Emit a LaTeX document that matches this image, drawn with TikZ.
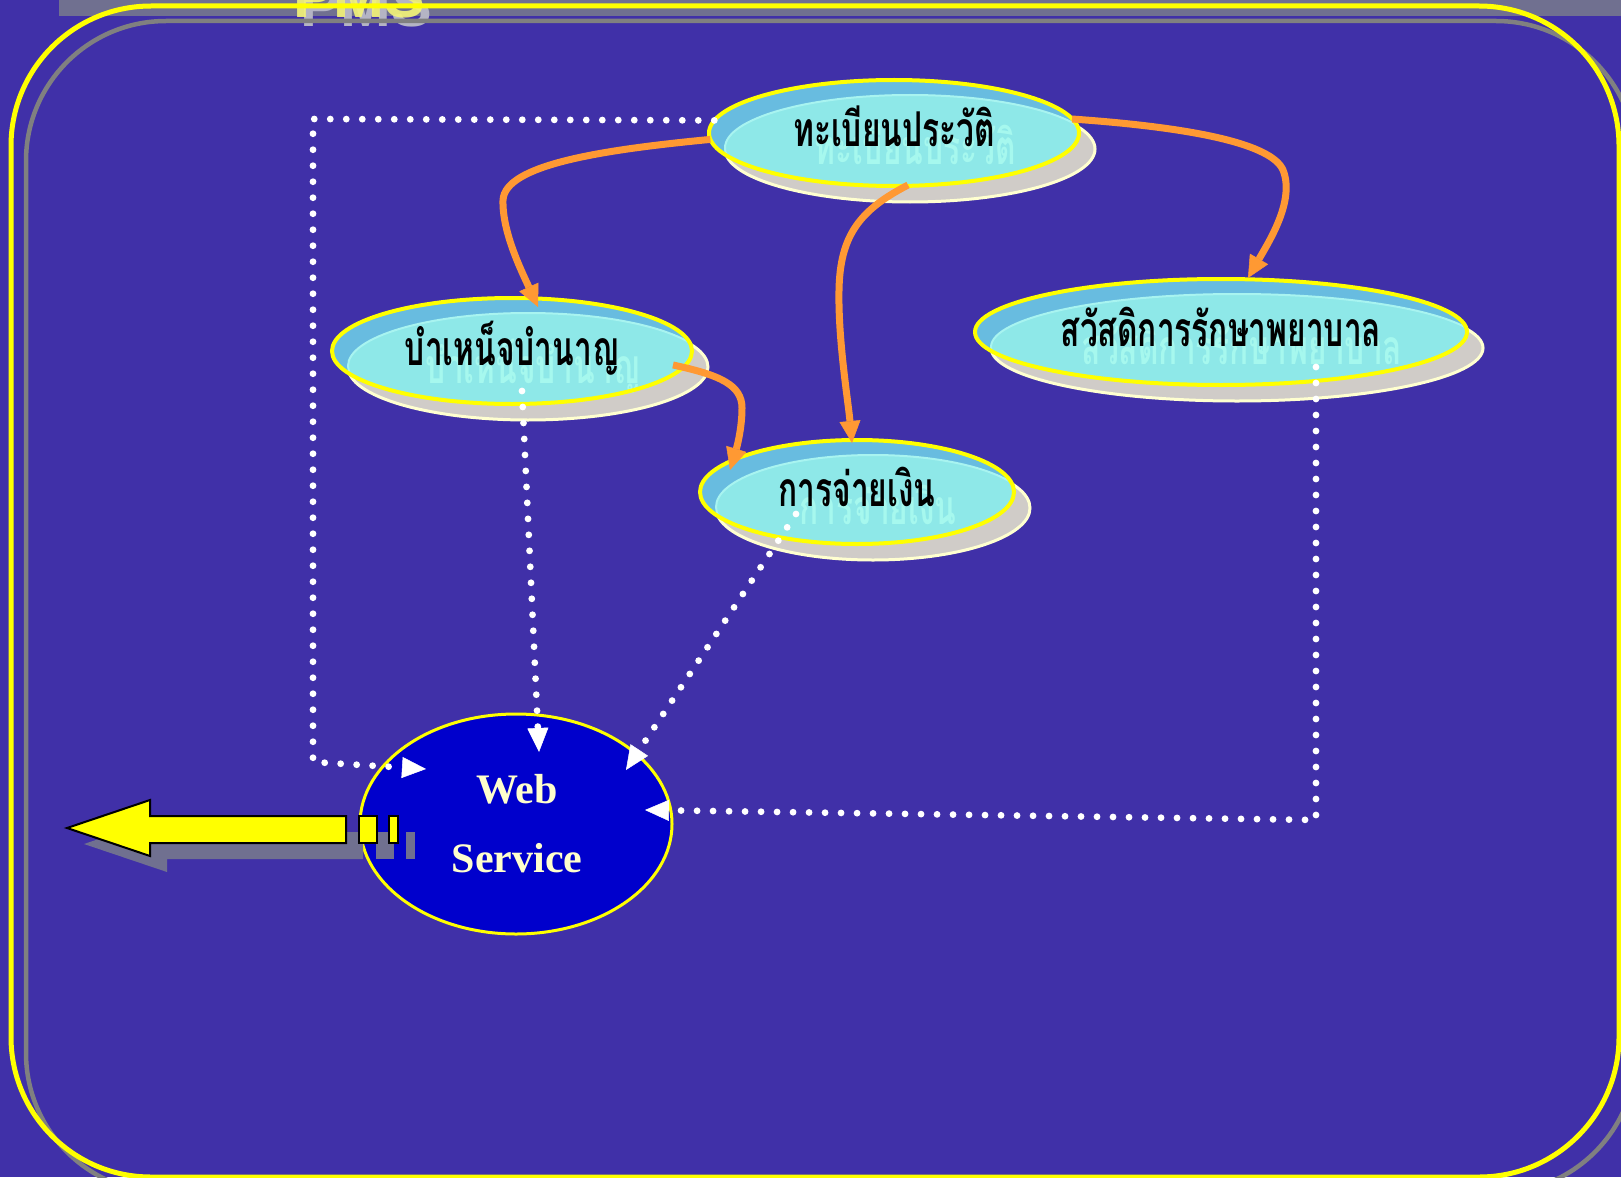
\documentclass[tikz,border=0pt]{standalone}
\usepackage{fontspec}
\setmainfont{Liberation Serif}
\newfontfamily\thaifont[Script=Thai,FakeStretch=0.66]{Loma}
\newfontfamily\headfont{Liberation Sans}
\usetikzlibrary{arrows.meta,shapes.geometric,calc}
\definecolor{bg}{HTML}{4030A8}
\definecolor{band}{HTML}{707090}
\definecolor{frameyellow}{HTML}{FFFF00}
\definecolor{framegray}{HTML}{808080}
\definecolor{ellblue}{HTML}{68BCE0}
\definecolor{ellinner}{HTML}{8EE8E8}
\definecolor{ellinnerline}{HTML}{A8F4F0}
\definecolor{shadowfill}{HTML}{D0CCC8}
\definecolor{shadowline}{HTML}{FFFFD0}
\definecolor{ghost}{HTML}{A6F8EE}
\definecolor{orangeline}{HTML}{FF9933}
\definecolor{wsblue}{HTML}{0000CC}
\definecolor{wstext}{HTML}{FFFFCC}
\definecolor{pmsyellow}{HTML}{F4F478}
\definecolor{pmsgray}{HTML}{B4B4C4}
\tikzset{
  bubble/.style={ellipse, draw=frameyellow, line width=4, inner sep=0pt, outer sep=0pt},
  thaitext/.style={anchor=base, inner sep=0pt, text=black, font=\thaifont\bfseries\fontsize{48}{54}\selectfont},
  ghosttext/.style={anchor=base, inner sep=0pt, text=ghost, font=\thaifont\bfseries\fontsize{48}{54}\selectfont},
  dotline/.style={white, line width=6.8, line cap=round, dash pattern=on 0pt off 16pt},
  dotarrow/.style={dotline, -{Triangle[length=24pt,width=21pt,line width=0.5pt]}},
  orangearrow/.style={orangeline, line width=7, -{Triangle[length=22pt,width=21pt,line width=0.5pt]}},
  wsnode/.style={ellipse, fill=wsblue, draw=frameyellow, line width=3, inner sep=0pt, outer sep=0pt, minimum width=312, minimum height=220},
  wslabel/.style={anchor=base, inner sep=0pt, text=wstext, font=\bfseries\fontsize{42}{48}\selectfont},
  pmstext/.style={anchor=base west, inner sep=0pt, font=\headfont\bfseries\fontsize{61}{66}\selectfont},
  bigarrow/.style={fill=frameyellow, draw=black, line width=2, line join=miter},
  arrowshadow/.style={fill=band}
}
\newcommand{\bubble}[6]{%
  \fill[shadowfill, draw=shadowline, line width=3] (#2+16,#3+16) ellipse [x radius=#4, y radius=#5];
  \begin{scope}
    \clip (#2,#3) ellipse [x radius=#4, y radius=#5];
    \fill[ellblue] (#2,#3) ellipse [x radius=#4, y radius=#5];
    \fill[ellinner, draw=ellinnerline, line width=2] (#2+16,#3+15) ellipse [x radius=#4, y radius=#5];
  \end{scope}
  \node[ghosttext] (#1-g) at (#2+21,#3+32) {#6};
  \node[bubble, minimum width=2*#4, minimum height=2*#5] (#1) at (#2,#3) {};
  \node[thaitext] (#1-t) at (#2,#3+14) {#6};
}
\begin{document}
\begin{tikzpicture}[x=1pt,y=-1pt]
\useasboundingbox (0,0) rectangle (1621,1177);
\fill[bg] (0,0) rectangle (1621,1177);
% top band and title
\fill[band] (59,0) rectangle (1621,16);
\node[pmstext, text=pmsgray] (pmsshadow) at (300,27) {PMS};
\node[pmstext, text=pmsyellow, opacity=0.9] (pms) at (293,18) {PMS};
% frames
\draw[framegray, line width=4.5, rounded corners=140] (26,21) rectangle (1636,1193);
\draw[frameyellow, line width=5, rounded corners=140] (11,6) rectangle (1619,1177);

% bubbles
\bubble{e1}{894}{133}{185}{53}{ทะเบียนประวัติ}
\bubble{e2}{512}{351}{180}{53}{บำเหน็จบำนาญ}
\bubble{e3}{1221}{332}{246}{53}{สวัสดิการรักษาพยาบาล}
\bubble{e4}{857}{492}{157}{52}{การจ่ายเงิน}

% web service
\node[wsnode] (ws) at (516,824) {};
\node[wslabel] (wsweb) at (517,803) {Web};
\node[wslabel] (wsservice) at (517,872) {Service};

% big yellow arrow with shadow
\begin{scope}[shift={(17,16)}]
  \fill[arrowshadow] (67,828) -- (150,800) -- (150,816) -- (346,816) -- (346,843) -- (150,843) -- (150,856) -- cycle;
  \fill[arrowshadow] (359,816) rectangle (377,843);
  \fill[arrowshadow] (389,816) rectangle (398,843);
\end{scope}
\draw[bigarrow] (67,828) -- (150,800) -- (150,816) -- (346,816) -- (346,843) -- (150,843) -- (150,856) -- cycle;
\draw[bigarrow] (359,816) rectangle (377,843);
\draw[bigarrow] (389,816) rectangle (398,843);

% coordinates for dotted connectors
\coordinate (d1a) at (313,119);
\coordinate (d1b) at (313,762);
\coordinate (d4a) at (1316,820);
\coordinate (w1) at ($(ws.center)+(-90,-55)$);
\coordinate (w2) at ($(ws.center)+(23,-72)$);
\coordinate (w3) at ($(ws.center)+(110,-54)$);
\coordinate (w4) at ($(ws.center)+(129,-14)$);

% dotted connectors
\draw[dotarrow] (e1.176) -- (d1a) -- (d1b) -- (w1);
\draw[dotarrow] ($(e2.center)+(10,40)$) -- (w2);
\draw[dotarrow] ($(e4.center)+(-61,22)$) -- (w3);
\draw[dotarrow] ($(e3.center)+(95,35)$) -- (d4a) -- (w4);

% orange connectors
\draw[orangearrow] (e1.182) .. controls (600,150) and (505,165) .. (503,200) .. controls (502,232) and (522,272) .. ($(e2.center)+(26,-44)$);
\draw[orangearrow] ($(e1.center)+(14,52)$) .. controls (860,210) and (840,235) .. (839,290) .. controls (838,340) and (848,400) .. ($(e4.center)+(-5,-49)$);
\draw[orangearrow] ($(e1.center)+(178,-14)$) .. controls (1200,128) and (1272,145) .. (1283,170) .. controls (1295,200) and (1270,240) .. ($(e3.center)+(27,-54)$);
\draw[orangearrow] ($(e2.center)+(161,14)$) .. controls (720,375) and (742,385) .. (742,408) .. controls (742,430) and (736,450) .. ($(e4.center)+(-127,-22)$);
\end{tikzpicture}
\end{document}
